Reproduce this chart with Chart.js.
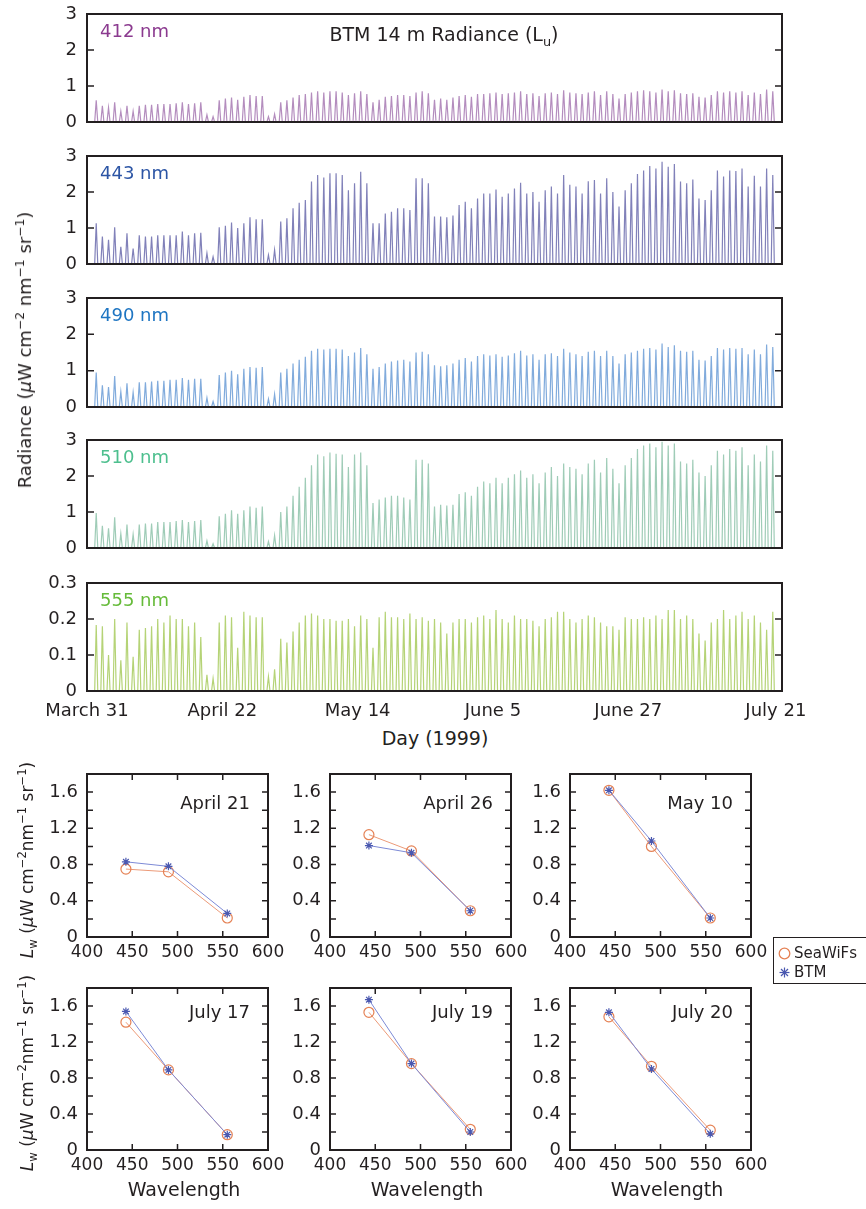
<!DOCTYPE html>
<html>
<head>
<meta charset="utf-8">
<script src="https://cdn.jsdelivr.net/npm/chart.js@4.4.1/dist/chart.umd.min.js"></script>
<style>
  html, body { margin: 0; padding: 0; background: #fff; }
  #page { position: relative; width: 866px; height: 1209px; overflow: hidden; font-family: 'DejaVu Sans', sans-serif; color: #231f20; }
  #page canvas { position: absolute; }
  .txt { position: absolute; white-space: nowrap; line-height: 1; }
  .vert { transform: translate(-50%, -50%) rotate(-90deg); }
  .ctr { width: 200px; margin-left: -100px; text-align: center; }
  sup, sub { font-size: 68%; line-height: 0; }
  .legend { position: absolute; left: 773px; top: 937px; width: 110px; height: 47px; border: 1px solid #231f20; box-sizing: border-box; font-size: 15px; }
  .legend div { position: absolute; left: 4px; display: flex; align-items: center; gap: 3px; }
</style>
</head>
<body>
<div id="page"></div>
<script>
// time axis: days since March 31 1999
const dayTicks = [0, 22, 44, 66, 88, 112];
const dayTickLabels = ['March 31', 'April 22', 'May 14', 'June 5', 'June 27', 'July 21'];

// daily noon peaks of L_u at 14 m (one value per day, April 1 .. July 21)
const peaks412 = [0.60,0.45,0.40,0.55,0.30,0.45,0.30,0.45,0.48,0.48,
  0.50,0.50,0.50,0.52,0.55,0.50,0.52,0.55,0.20,0.15,
  0.60,0.65,0.68,0.62,0.70,0.75,0.72,0.72,0.15,0.22,
  0.55,0.60,0.68,0.75,0.78,0.82,0.85,0.82,0.85,0.85,
  0.82,0.75,0.80,0.85,0.78,0.55,0.62,0.70,0.72,0.75,
  0.75,0.72,0.82,0.85,0.80,0.62,0.65,0.62,0.68,0.72,
  0.75,0.70,0.78,0.78,0.80,0.82,0.78,0.80,0.82,0.85,
  0.78,0.80,0.72,0.80,0.82,0.78,0.88,0.82,0.80,0.78,
  0.82,0.85,0.75,0.85,0.78,0.65,0.78,0.82,0.85,0.88,
  0.85,0.82,0.90,0.85,0.88,0.80,0.78,0.80,0.70,0.68,
  0.75,0.85,0.82,0.85,0.82,0.85,0.75,0.82,0.78,0.90,0.85];

const peaks443 = [1.13,0.76,0.67,1.02,0.48,0.85,0.43,0.80,0.76,0.76,
  0.80,0.80,0.80,0.80,0.90,0.80,0.85,0.87,0.30,0.20,
  1.02,1.06,1.15,1.00,1.13,1.30,1.24,1.24,0.25,0.39,
  1.18,1.27,1.55,1.70,1.78,2.29,2.47,2.40,2.52,2.52,
  2.47,2.05,2.24,2.56,2.24,1.13,1.13,1.40,1.45,1.55,
  1.55,1.50,2.38,2.38,2.24,1.32,1.32,1.30,1.35,1.64,
  1.73,1.55,1.82,1.96,1.96,2.07,1.87,1.96,2.10,2.26,
  1.96,2.00,1.73,2.05,2.15,1.96,2.47,2.20,2.15,1.96,
  2.30,2.33,1.96,2.38,2.00,1.60,2.05,2.24,2.50,2.60,
  2.72,2.65,2.84,2.70,2.78,2.29,2.24,2.35,1.82,1.78,
  2.05,2.60,2.43,2.60,2.58,2.65,2.15,2.45,2.15,2.65,2.47];

const peaks490 = [0.95,0.60,0.55,0.85,0.42,0.65,0.40,0.68,0.68,0.70,
  0.72,0.72,0.75,0.75,0.80,0.75,0.78,0.78,0.25,0.15,
  0.88,0.95,1.00,0.90,1.05,1.10,1.08,1.10,0.22,0.35,
  0.95,1.05,1.20,1.30,1.38,1.55,1.60,1.58,1.60,1.60,
  1.58,1.40,1.50,1.62,1.45,1.05,1.10,1.20,1.25,1.28,
  1.30,1.25,1.50,1.52,1.45,1.15,1.12,1.15,1.20,1.30,
  1.35,1.25,1.40,1.45,1.42,1.45,1.38,1.42,1.48,1.55,
  1.42,1.45,1.30,1.45,1.48,1.40,1.60,1.50,1.45,1.40,
  1.52,1.55,1.40,1.55,1.40,1.20,1.45,1.50,1.55,1.60,
  1.62,1.58,1.75,1.65,1.70,1.55,1.52,1.55,1.30,1.28,
  1.40,1.62,1.58,1.62,1.60,1.62,1.45,1.58,1.45,1.72,1.65];

const peaks510 = [0.97,0.62,0.55,0.85,0.40,0.65,0.38,0.65,0.68,0.68,
  0.72,0.72,0.72,0.75,0.78,0.72,0.75,0.78,0.20,0.12,
  0.88,0.95,1.05,0.95,1.05,1.15,1.12,1.15,0.18,0.35,
  1.00,1.15,1.45,1.70,1.95,2.30,2.60,2.55,2.65,2.62,
  2.60,2.25,2.60,2.65,2.30,1.25,1.35,1.40,1.45,1.45,
  1.40,1.35,2.45,2.45,2.35,1.15,1.20,1.18,1.20,1.50,
  1.55,1.45,1.70,1.85,1.80,1.95,1.80,1.95,2.05,2.15,
  1.95,2.05,1.80,2.10,2.25,2.00,2.35,2.25,2.20,2.05,
  2.35,2.45,2.10,2.50,2.20,1.80,2.30,2.50,2.75,2.85,
  2.90,2.80,2.95,2.85,2.90,2.40,2.35,2.45,2.10,2.00,
  2.30,2.70,2.60,2.75,2.70,2.80,2.30,2.60,2.40,2.85,2.70];

const peaks555 = [0.183,0.180,0.100,0.200,0.085,0.190,0.095,0.170,0.175,0.180,
  0.200,0.190,0.210,0.200,0.200,0.180,0.190,0.150,0.045,0.035,
  0.190,0.210,0.205,0.120,0.220,0.210,0.205,0.205,0.040,0.060,
  0.145,0.135,0.165,0.190,0.210,0.215,0.210,0.200,0.200,0.195,
  0.195,0.200,0.180,0.210,0.200,0.120,0.205,0.220,0.205,0.205,
  0.200,0.215,0.200,0.205,0.195,0.200,0.190,0.160,0.190,0.200,
  0.200,0.190,0.205,0.210,0.200,0.225,0.200,0.190,0.210,0.200,
  0.200,0.195,0.180,0.200,0.205,0.220,0.220,0.200,0.190,0.200,
  0.210,0.205,0.190,0.180,0.180,0.170,0.205,0.200,0.200,0.205,
  0.200,0.210,0.200,0.225,0.225,0.200,0.210,0.200,0.160,0.140,
  0.190,0.200,0.225,0.200,0.210,0.220,0.200,0.210,0.190,0.170,0.220];

// SeaWiFS vs BTM water-leaving radiance matchups
const wavelengths = [443, 490, 555];
const matchDates = ['April 21', 'April 26', 'May 10', 'July 17', 'July 19', 'July 20'];
const seawifsLw = [
  [0.75, 0.72, 0.21],
  [1.13, 0.95, 0.29],
  [1.62, 1.00, 0.21],
  [1.42, 0.89, 0.17],
  [1.53, 0.96, 0.23],
  [1.48, 0.93, 0.22]
];
const btmLw = [
  [0.83, 0.78, 0.26],
  [1.01, 0.93, 0.29],
  [1.62, 1.06, 0.21],
  [1.54, 0.89, 0.17],
  [1.67, 0.96, 0.20],
  [1.53, 0.90, 0.18]
];
const lwTicks = [0, 0.4, 0.8, 1.2, 1.6];

const INK = '#231f20';
const TICK_FONT = { family: "'DejaVu Sans', sans-serif", size: 18 };
const page = document.getElementById('page');

const framePlugin = {
  id: 'frame',
  afterDraw(chart, args, opts) {
    const { ctx, chartArea: a } = chart;
    const len = opts.tickLen || 7;
    ctx.save();
    ctx.strokeStyle = INK;
    ctx.lineWidth = 1.5;
    ctx.beginPath();
    (opts.yMarks || []).forEach(v => {
      const y = chart.scales.y.getPixelForValue(v);
      ctx.moveTo(a.left, y); ctx.lineTo(a.left + len, y);
      ctx.moveTo(a.right, y); ctx.lineTo(a.right - len, y);
    });
    (opts.xMarks || []).forEach(v => {
      const x = chart.scales.x.getPixelForValue(v);
      ctx.moveTo(x, a.bottom); ctx.lineTo(x, a.bottom - len);
      ctx.moveTo(x, a.top); ctx.lineTo(x, a.top + len);
    });
    ctx.stroke();
    ctx.lineWidth = 2;
    ctx.strokeRect(a.left, a.top, a.right - a.left, a.bottom - a.top);
    ctx.restore();
  }
};
Chart.register(framePlugin);

function addCanvas(left, top, w, h) {
  const c = document.createElement('canvas');
  c.width = w; c.height = h;
  c.style.left = left + 'px';
  c.style.top = top + 'px';
  c.style.width = w + 'px';
  c.style.height = h + 'px';
  page.appendChild(c);
  return c;
}

function addText(html, css, cls) {
  const d = document.createElement('div');
  d.className = 'txt' + (cls ? ' ' + cls : '');
  d.innerHTML = html;
  Object.assign(d.style, css);
  page.appendChild(d);
  return d;
}

function spikeSeries(peaks) {
  const pts = [];
  peaks.forEach((v, d) => {
    const noon = d + 1.5;
    pts.push({ x: noon - 0.25, y: 0 }, { x: noon, y: v }, { x: noon + 0.25, y: 0 });
  });
  return pts;
}

// keep the chart area exactly where the layout padding puts it
function fixWidth(w) {
  return (axis) => {
    axis.width = w;
    axis.paddingTop = 0;
    axis.paddingBottom = 0;
  };
}
function fixHeight(h) {
  return (axis) => {
    axis.height = h;
    axis.paddingLeft = 0;
    axis.paddingRight = 0;
  };
}

// ---- top: BTM 14 m time series ----
const bands = [
  { name: '412 nm', peaks: peaks412, max: 3, step: 1, top: 14, bottom: 122, text: '#8b3a8f', line: 'rgba(140, 80, 155, 0.65)' },
  { name: '443 nm', peaks: peaks443, max: 3, step: 1, top: 156, bottom: 264, text: '#2c55a5', line: 'rgba(75, 75, 155, 0.7)' },
  { name: '490 nm', peaks: peaks490, max: 3, step: 1, top: 298, bottom: 407, text: '#1e75c2', line: 'rgba(75, 135, 205, 0.7)' },
  { name: '510 nm', peaks: peaks510, max: 3, step: 1, top: 440, bottom: 548, text: '#4dbf8e', line: 'rgba(95, 170, 135, 0.6)' },
  { name: '555 nm', peaks: peaks555, max: 0.3, step: 0.1, top: 583, bottom: 691, text: '#66bb3a', line: 'rgba(150, 192, 60, 0.7)' }
];

bands.forEach((b, i) => {
  const isLast = i === bands.length - 1;
  const padTop = 12;
  const padBottom = isLast ? 2 : 14;
  const xHeight = isLast ? 34 : 0;
  const h = (b.bottom - b.top) + padTop + padBottom + xHeight;
  const canvas = addCanvas(0, b.top - padTop, 866, h);
  const yTicks = [0, b.step, 2 * b.step, 3 * b.step];

  new Chart(canvas, {
    type: 'line',
    data: {
      datasets: [{
        data: spikeSeries(b.peaks),
        borderColor: b.line,
        borderWidth: 1.2,
        pointRadius: 0,
        tension: 0
      }]
    },
    options: {
      responsive: false,
      animation: false,
      events: [],
      layout: { padding: { left: 30, right: 84, top: padTop, bottom: padBottom } },
      plugins: {
        legend: { display: false },
        tooltip: { enabled: false },
        frame: { yMarks: [b.step, 2 * b.step], tickLen: 7 }
      },
      scales: {
        x: {
          type: 'linear',
          min: 0,
          max: 113,
          display: isLast,
          grid: { display: false, drawTicks: false },
          border: { display: false },
          afterBuildTicks: (axis) => { axis.ticks = dayTicks.map(v => ({ value: v })); },
          afterFit: fixHeight(xHeight),
          ticks: {
            autoSkip: false,
            maxRotation: 0,
            padding: 10,
            color: INK,
            font: { family: TICK_FONT.family, size: 18 },
            callback: (v) => dayTickLabels[dayTicks.indexOf(v)]
          }
        },
        y: {
          min: 0,
          max: b.max,
          grid: { display: false, drawTicks: false },
          border: { display: false },
          afterBuildTicks: (axis) => { axis.ticks = yTicks.map(v => ({ value: v })); },
          afterFit: fixWidth(57),
          ticks: {
            padding: 10,
            color: INK,
            font: TICK_FONT,
            callback: (v) => (v === 0 ? '0' : (b.step < 1 ? v.toFixed(1) : String(Math.round(v))))
          }
        }
      }
    }
  });

  addText(b.name, { left: '100px', top: (b.top + 8) + 'px', fontSize: '18px', color: b.text });
});

addText('BTM 14 m Radiance (L<sub>u</sub>)', { left: '444px', top: '25px', fontSize: '19px', width: '300px', marginLeft: '-150px', textAlign: 'center' });
addText('Day (1999)', { left: '435px', top: '729px', fontSize: '19px' }, 'ctr');
addText('Radiance (<i>&mu;</i>W cm<sup>&minus;2</sup> nm<sup>&minus;1</sup> sr<sup>&minus;1</sup>)',
  { left: '25px', top: '350px', fontSize: '18px' }, 'vert');

// ---- bottom: matchup panels ----
const cols = [87, 330, 570];
const rows = [{ top: 774, bottom: 937, labelDy: 29 }, { top: 988, bottom: 1150, labelDy: 24 }];
const PANEL_W = 181;

matchDates.forEach((date, k) => {
  const x0 = cols[k % 3];
  const row = rows[Math.floor(k / 3)];
  const padTop = 12;
  const yWidth = 60;
  const xHeight = 28;
  const w = yWidth + PANEL_W + 25;
  const h = padTop + (row.bottom - row.top) + xHeight + 2;
  const canvas = addCanvas(x0 - yWidth, row.top - padTop, w, h);

  new Chart(canvas, {
    type: 'line',
    data: {
      datasets: [
        {
          label: 'BTM',
          data: wavelengths.map((wl, j) => ({ x: wl, y: btmLw[k][j] })),
          borderColor: '#7d8ad6',
          borderWidth: 1,
          pointStyle: 'star',
          pointRadius: 4,
          pointBorderColor: '#4a58b0',
          pointBorderWidth: 1.2,
          pointBackgroundColor: '#4a58b0',
          tension: 0
        },
        {
          label: 'SeaWiFs',
          data: wavelengths.map((wl, j) => ({ x: wl, y: seawifsLw[k][j] })),
          borderColor: '#ec9a78',
          borderWidth: 1,
          pointStyle: 'circle',
          pointRadius: 5,
          pointBorderColor: '#e58255',
          pointBorderWidth: 1.2,
          pointBackgroundColor: 'rgba(255,255,255,0)',
          tension: 0
        }
      ]
    },
    options: {
      responsive: false,
      animation: false,
      events: [],
      layout: { padding: { left: 0, right: 25, top: padTop, bottom: 2 } },
      plugins: {
        legend: { display: false },
        tooltip: { enabled: false },
        frame: { yMarks: [0.2, 0.4, 0.6, 0.8, 1.0, 1.2, 1.4, 1.6], xMarks: [450, 500, 550], tickLen: 6 }
      },
      scales: {
        x: {
          type: 'linear',
          min: 400,
          max: 600,
          grid: { display: false, drawTicks: false },
          border: { display: false },
          afterFit: fixHeight(xHeight),
          ticks: { stepSize: 50, autoSkip: false, maxRotation: 0, padding: 5, color: INK, font: { family: TICK_FONT.family, size: 17 } }
        },
        y: {
          min: 0,
          max: 1.8,
          grid: { display: false, drawTicks: false },
          border: { display: false },
          afterBuildTicks: (axis) => { axis.ticks = lwTicks.map(v => ({ value: v })); },
          afterFit: fixWidth(yWidth),
          ticks: {
            padding: 9,
            color: INK,
            font: TICK_FONT,
            callback: (v) => (v === 0 ? '0' : v.toFixed(1))
          }
        }
      }
    }
  });

  addText(date, { left: (x0 + PANEL_W - 18 - 120) + 'px', width: '120px', textAlign: 'right', top: (row.top + row.labelDy - 9) + 'px', fontSize: '18px' });
  if (k >= 3) {
    addText('Wavelength', { left: Math.round(x0 + PANEL_W / 2 + 6) + 'px', top: '1180px', fontSize: '19px' }, 'ctr');
  }
});

rows.forEach(row => {
  addText('<i>L</i><sub>w</sub> (<i>&mu;</i>W cm<sup>&minus;2</sup>nm<sup>&minus;1</sup> sr<sup>&minus;1</sup>)',
    { left: '27px', top: Math.round((row.top + row.bottom) / 2 + 4) + 'px', fontSize: '17px' }, 'vert');
});

// legend for the matchup panels
const legend = document.createElement('div');
legend.className = 'legend';
legend.innerHTML =
  '<div style="top:6px"><svg width="13" height="13"><circle cx="6.5" cy="6.5" r="5.3" fill="none" stroke="#e58255" stroke-width="1.3"/></svg>SeaWiFs</div>' +
  '<div style="top:25px"><svg width="13" height="13" stroke="#4a58b0" stroke-width="1.2"><line x1="6.5" y1="1.5" x2="6.5" y2="11.5"/><line x1="1.5" y1="6.5" x2="11.5" y2="6.5"/><line x1="3" y1="3" x2="10" y2="10"/><line x1="10" y1="3" x2="3" y2="10"/></svg>BTM</div>';
page.appendChild(legend);
</script>
</body>
</html>
